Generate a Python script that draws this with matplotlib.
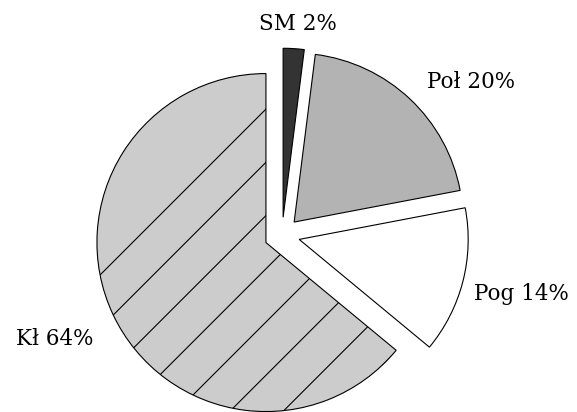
import matplotlib.pyplot as plt
import numpy as np

# slice data, clockwise from the top
labels = ["SM", "Poł", "Pog", "Kł"]
shares = [2, 20, 14, 64]
colors = ["#333333", "#b3b3b3", "#ffffff", "#cccccc"]
explode = [0.105, 0.105, 0.105, 0.105]

W, H = 577, 412
R = 169.0          # pie radius in pixels
cx, cy = 282, 235  # pie centre in pixels from top-left

# label anchor (centre x, baseline y) in pixels
label_px = [(298, 30), (471.5, 88), (521, 300), (55, 345)]

fig = plt.figure(figsize=(W / 100, H / 100), dpi=100)
ax = fig.add_axes([0, 0, 1, 1])

wedges, _ = ax.pie(shares, colors=colors, explode=explode, startangle=90,
                   counterclock=False,
                   wedgeprops=dict(edgecolor="black", linewidth=0.8))

ax.set_xlim(-cx / R, (W - cx) / R)
ax.set_ylim(-(H - cy) / R, cy / R)
ax.set_aspect("equal")
ax.axis("off")

# sparse diagonal hatch on the big slice
big = wedges[3]
for c in np.arange(0.84, -3.0, -0.315):
    xs = np.array([-2.0, 2.0])
    ln, = ax.plot(xs, xs + c, color="black", lw=0.8)
    ln.set_clip_path(big)

# labels
for lab, s, (px, py) in zip(labels, shares, label_px):
    ax.text((px - cx) / R, (cy - py) / R, "{} {}%".format(lab, s),
            ha="center", va="baseline", fontsize=15.5, family="DejaVu Serif")

fig.savefig("out.png", dpi=100)
